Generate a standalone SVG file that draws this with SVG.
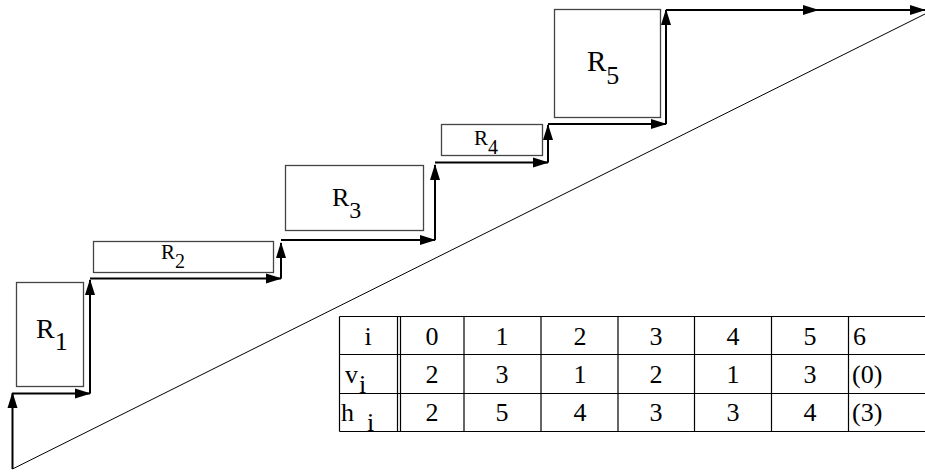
<svg xmlns="http://www.w3.org/2000/svg" width="925" height="473" viewBox="0 0 925 473">
<style>
.box{fill:#fff;stroke:#444;stroke-width:1.3}
.arr{fill:none;stroke:#000;stroke-width:2;marker-end:url(#ah)}
.lbl{font-family:"Liberation Serif","DejaVu Serif",serif;fill:#000}
.tl{stroke:#000;stroke-width:1.2;fill:none}
.tt{font-family:"Liberation Serif","DejaVu Serif",serif;font-size:26px;fill:#000}
.c{text-anchor:middle}
.s{text-anchor:start}
</style>
<defs>
<marker id="ah" markerUnits="userSpaceOnUse" markerWidth="16" markerHeight="12" viewBox="0 0 16 12" refX="15" refY="6" orient="auto">
<path d="M0,1 L16,6 L0,11 Z" fill="#000"/>
</marker>
</defs>
<rect width="925" height="473" fill="#fff"/>
<g id="R1"><rect class="box" x="16.5" y="282.5" width="67" height="104"/><text class="lbl" x="36" y="338" font-size="28">R<tspan font-size="26" dy="12">1</tspan></text></g>
<g id="R2"><rect class="box" x="93.5" y="241.5" width="180" height="31"/><text class="lbl" x="161" y="259" font-size="21">R<tspan font-size="20" dy="9">2</tspan></text></g>
<g id="R3"><rect class="box" x="285.5" y="165.5" width="138" height="65"/><text class="lbl" x="332" y="206" font-size="26">R<tspan font-size="24" dy="12">3</tspan></text></g>
<g id="R4"><rect class="box" x="441.5" y="124.5" width="101" height="31"/><text class="lbl" x="474" y="145" font-size="21">R<tspan font-size="20" dy="9">4</tspan></text></g>
<g id="R5"><rect class="box" x="554.5" y="9.5" width="106" height="108"/><text class="lbl" x="587" y="71" font-size="29">R<tspan font-size="26" dy="13">5</tspan></text></g>
<g id="connectors">
<line x1="12.5" y1="469" x2="925" y2="14" stroke="#000" stroke-width="1"/>
<path class="arr" d="M12.5,469 V393"/>
<path class="arr" d="M12.5,393.5 H90"/>
<path class="arr" d="M90,393.5 V280"/>
<path class="arr" d="M90,278.5 H281"/>
<path class="arr" d="M281,278.5 V243"/>
<path class="arr" d="M281,240 H435"/>
<path class="arr" d="M435,240 V165"/>
<path class="arr" d="M435,162.5 H548"/>
<path class="arr" d="M548,162.5 V125"/>
<path class="arr" d="M548,124 H666"/>
<path class="arr" d="M666,124 V10"/>
<path class="arr" d="M666,10 H818"/>
<path class="arr" d="M818,10 H925"/>
</g>
<g id="table">
<path class="tl" d="M339.5,316.5 H925 M339.5,354.5 H925 M339.5,393.5 H925 M339.5,431.5 H925 M339.5,316.5 V431.5 M397.5,316.5 V431.5 M400.5,316.5 V431.5 M464,316.5 V431.5 M541,316.5 V431.5 M618,316.5 V431.5 M694.5,316.5 V431.5 M771.5,316.5 V431.5 M848.5,316.5 V431.5"/>
<text class="tt c" x="368" y="345">i</text>
<text class="tt c" x="432" y="345">0</text>
<text class="tt c" x="502" y="345">1</text>
<text class="tt c" x="580" y="345">2</text>
<text class="tt c" x="656" y="345">3</text>
<text class="tt c" x="733" y="345">4</text>
<text class="tt c" x="810" y="345">5</text>
<text class="tt s" x="853" y="345">6</text>
<text class="tt s" x="345" y="383">v</text>
<text class="tt s" x="359" y="393" font-size="15">i</text>
<text class="tt c" x="432" y="383">2</text>
<text class="tt c" x="502" y="383">3</text>
<text class="tt c" x="580" y="383">1</text>
<text class="tt c" x="656" y="383">2</text>
<text class="tt c" x="733" y="383">1</text>
<text class="tt c" x="810" y="383">3</text>
<text class="tt s" x="852" y="383">(0)</text>
<text class="tt s" x="341" y="421">h</text>
<text class="tt s" x="367" y="431" font-size="15">i</text>
<text class="tt c" x="432" y="421">2</text>
<text class="tt c" x="502" y="421">5</text>
<text class="tt c" x="580" y="421">4</text>
<text class="tt c" x="656" y="421">3</text>
<text class="tt c" x="733" y="421">3</text>
<text class="tt c" x="810" y="421">4</text>
<text class="tt s" x="852" y="421">(3)</text>
</g>
</svg>
